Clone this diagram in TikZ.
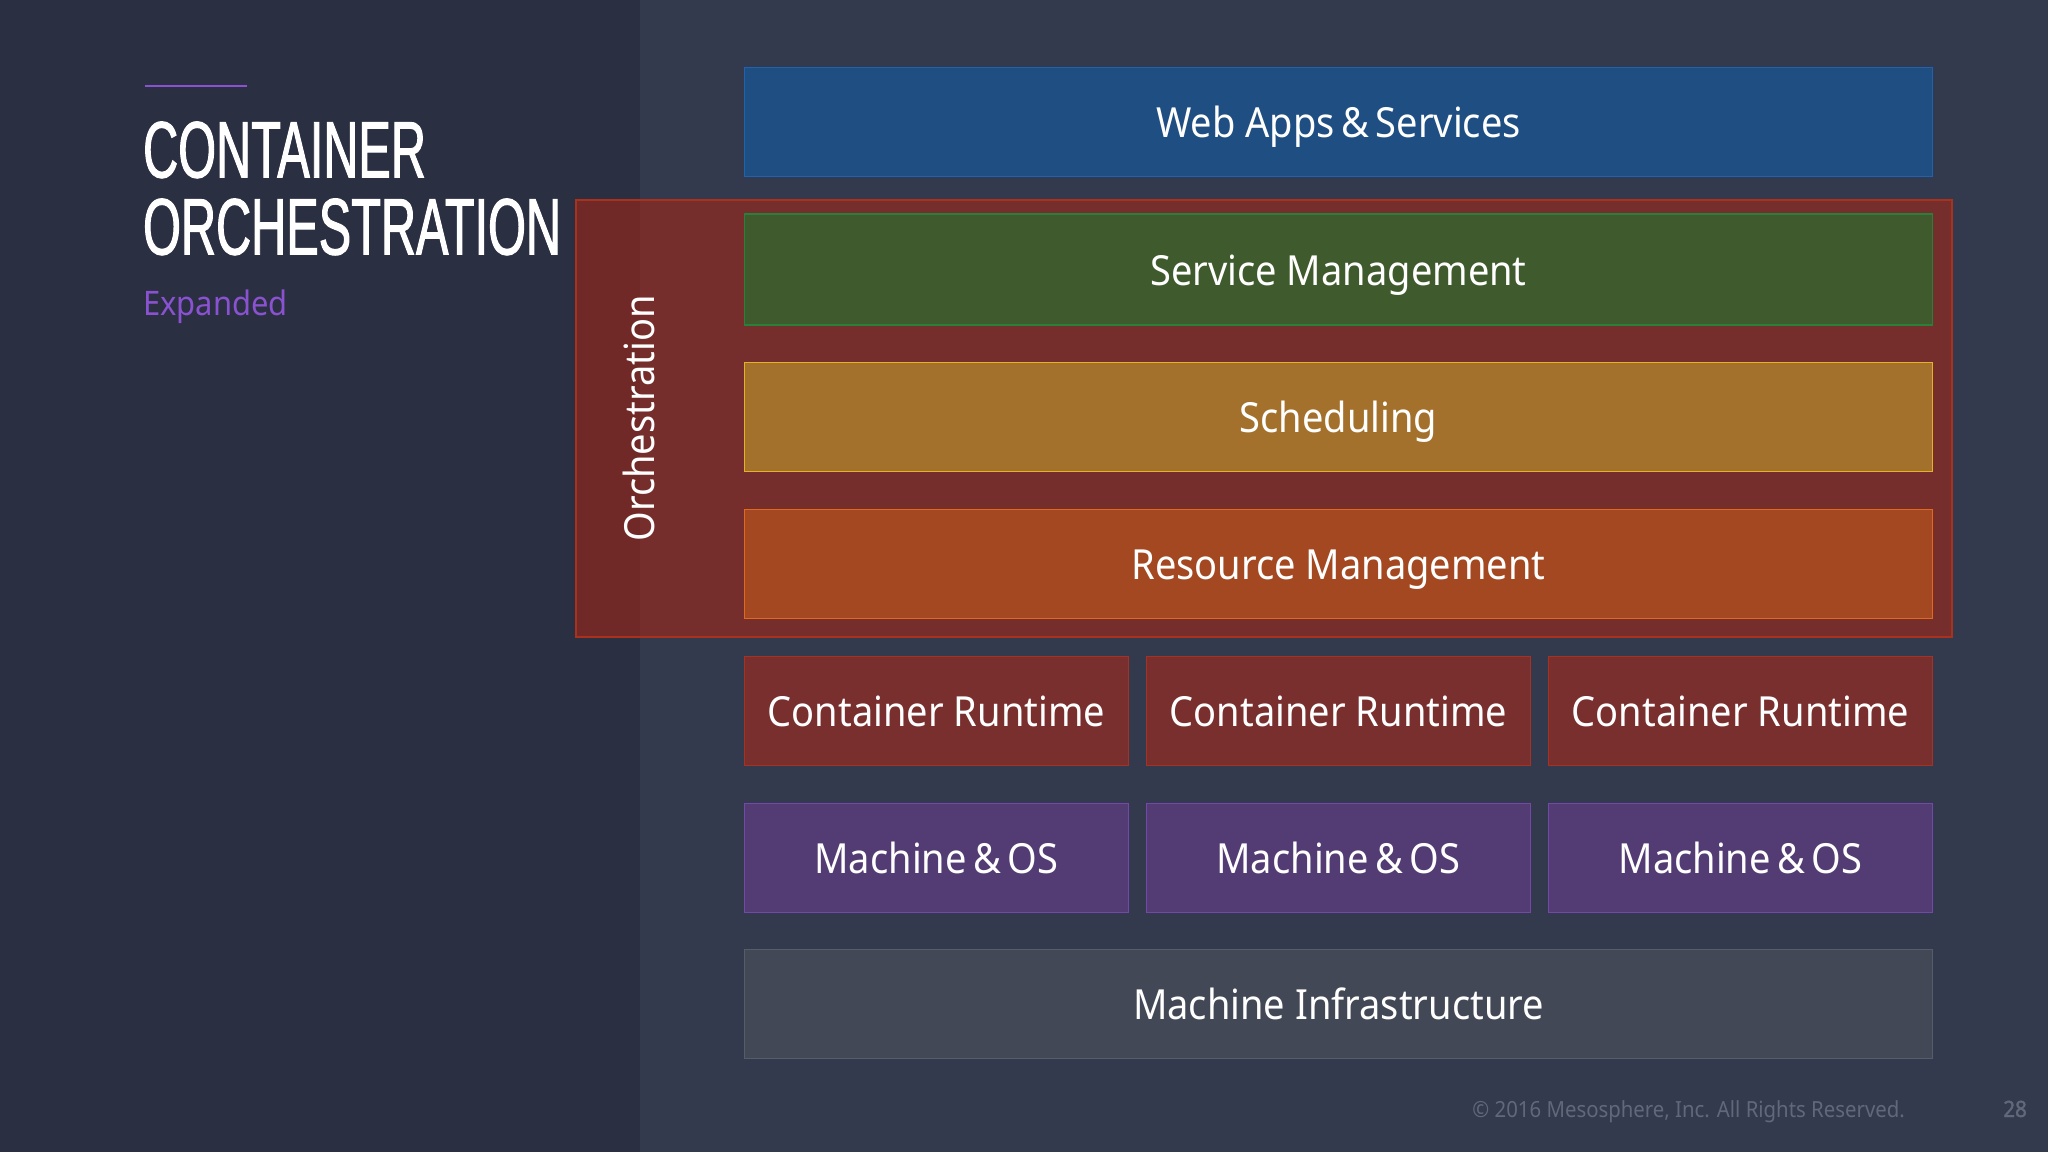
\documentclass[tikz,border=0pt]{standalone}
\usepackage{fontspec}
\setmainfont{Noto Sans}
\newfontfamily\bodyfont[FakeStretch=0.917]{Noto Sans}
\newfontfamily\numfont[FakeStretch=0.917, FakeBold=1.6]{Noto Sans}
\newfontfamily\titlefont[FakeStretch=0.607, FakeBold=1.2]{Liberation Sans}
\def\tightamp{\hspace{.16em}\&\hspace{.16em}}
\definecolor{sidebg}{RGB}{42,47,66}
\definecolor{mainbg}{RGB}{52,58,78}
\definecolor{accent}{RGB}{138,82,208}
\definecolor{footgray}{RGB}{97,104,122}
\definecolor{orchline}{RGB}{170,50,28}
\definecolor{orchfill}{RGB}{184,36,14}
\definecolor{webline}{RGB}{31,98,175}
\definecolor{webfill}{RGB}{30,78,130}
\definecolor{serviceline}{RGB}{40,128,58}
\definecolor{servicefill}{RGB}{63,90,44}
\definecolor{schedline}{RGB}{228,178,40}
\definecolor{schedfill}{RGB}{163,113,44}
\definecolor{resline}{RGB}{225,105,30}
\definecolor{resfill}{RGB}{163,72,32}
\definecolor{runline}{RGB}{165,50,35}
\definecolor{runfill}{RGB}{120,47,46}
\definecolor{machline}{RGB}{115,72,168}
\definecolor{machfill}{RGB}{83,60,115}
\definecolor{infraline}{RGB}{85,93,105}
\definecolor{infrafill}{RGB}{66,72,85}
\tikzset{
	layer/.style={line width=1.8pt, outer sep=0pt, inner sep=0pt, text=white, minimum height=156pt, text height=45pt, text depth=0pt, font=\bodyfont\fontsize{59}{59}\selectfont},
	wide/.style={layer, minimum width=1691pt},
	third/.style={layer, minimum width=546pt},
	titlestyle/.style={anchor=base west, inner sep=0pt, text=white, font=\titlefont\fontsize{114}{114}\selectfont},
	webstyle/.style={draw=webline, fill=webfill},
	servicestyle/.style={draw=serviceline, fill=servicefill, minimum height=158pt},
	schedstyle/.style={draw=schedline, fill=schedfill},
	resstyle/.style={draw=resline, fill=resfill},
	runstyle/.style={draw=runline, fill=runfill},
	machstyle/.style={draw=machline, fill=machfill},
	infrastyle/.style={draw=infraline, fill=infrafill}
}
\begin{document}
\begin{tikzpicture}[x=0.05cm, y=-0.05cm]
		%%%%% START %%%%%
		\useasboundingbox (0, 0) rectangle (2048, 1152);
		
		\fill[mainbg] (0, 0) rectangle (2048, 1152);
		\fill[sidebg] (0, 0) rectangle (640, 1152);
		
		\draw[line width=2.8pt, color=accent] (145, 86) -- (247, 86);
		\node[titlestyle] (titleone) at (143, 177.5) {CONTAINER};
		\node[titlestyle] (titletwo) at (143, 254.5) {ORCHESTRATION};
		\node[anchor=base west, inner sep=0pt, text=accent, font=\bodyfont\fontsize{48}{48}\selectfont] (subtitle) at (143, 315) {Expanded};
		
		\node[wide, webstyle] (webapps) at (1338.5, 122) {Web Apps\tightamp Services};
		
		\draw[line width=1.8pt, draw=orchline, fill=orchfill, fill opacity=0.5] (576, 200) rectangle (1952, 637);
		\node[rotate=90, inner sep=0pt, text=white, font=\bodyfont\fontsize{59}{59}\selectfont] (orchestration) at (639, 418.5) {Orchestration};
		
		\node[wide, servicestyle] (service) at (1338.5, 269.5) {Service Management};
		\node[wide, schedstyle] (scheduling) at (1338.5, 417) {Scheduling};
		\node[wide, resstyle] (resource) at (1338.5, 564) {Resource Management};
		
		\node[third, runstyle] (runtimea) at (936.5, 711) {Container Runtime};
		\node[third, runstyle] (runtimeb) at (1338.5, 711) {Container Runtime};
		\node[third, runstyle] (runtimec) at (1740.5, 711) {Container Runtime};
		
		\node[third, machstyle] (machinea) at (936.5, 858) {Machine\tightamp OS};
		\node[third, machstyle] (machineb) at (1338.5, 858) {Machine\tightamp OS};
		\node[third, machstyle] (machinec) at (1740.5, 858) {Machine\tightamp OS};
		
		\node[wide, infrastyle] (infra) at (1338.5, 1004) {Machine Infrastructure};
		
		\node[anchor=base east, inner sep=0pt, text=footgray, font=\bodyfont\fontsize{31.6}{32}\selectfont] (copyright) at (1905, 1117) {\textcopyright{} 2016 Mesosphere, Inc. All Rights Reserved.};
		\node[anchor=base east, inner sep=0pt, text=footgray, font=\numfont\fontsize{32}{32}\selectfont] (pagenum) at (2027, 1117) {28};
		
		%%%%% END %%%%%
	\end{tikzpicture}
\end{document}
